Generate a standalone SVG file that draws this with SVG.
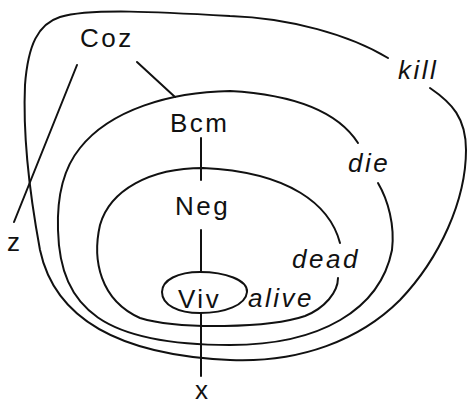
<svg xmlns="http://www.w3.org/2000/svg" width="467" height="405" viewBox="0 0 467 405">
  <style>
    .lbl { font-family: "Liberation Sans", Arial, sans-serif; font-size: 26px; fill: #111; letter-spacing: 2.5px; }
    .it { font-style: italic; }
    .ln { fill: none; stroke: #111; stroke-width: 2; stroke-linecap: round; stroke-linejoin: round; }
  </style>
  <rect width="467" height="405" fill="#fff"/>

  <!-- nested regions and links -->
  <g id="connectors">
    <!-- kill region (outer) -->
    <path class="ln" d="M388,58 C350,35 290,18 230,16 C160,12 90,8 60,17 C38,24 28,45 25,85 C23,130 28,185 40,250 C55,320 120,355 230,360 C300,363 360,340 400,300 C440,258 466,200 466,150 C466,118 452,103 430,88"/>
    <!-- die region -->
    <path class="ln" d="M358,143 C340,115 300,95 230,91 C170,92 110,110 80,148 C62,170 57,200 58,230 C60,310 105,345 230,345 C320,345 380,310 392,250 C395,225 388,200 378,183"/>
    <!-- dead region -->
    <path class="ln" d="M340,243 C330,205 290,172 203,168 C150,168 110,190 100,225 C92,260 100,300 140,318 C180,330 270,328 305,316 C325,308 338,292 338,278"/>
    <!-- alive region -->
    <path class="ln" d="M200,272 C225,272 248,280 247,292 C246,305 225,313 200,313 C178,313 162,305 162,292 C162,280 178,272 200,272 Z"/>
    <!-- Coz links -->
    <line class="ln" x1="77" y1="65" x2="14" y2="222"/>
    <line class="ln" x1="137" y1="62" x2="175" y2="97"/>
    <!-- vertical axis -->
    <line class="ln" x1="201" y1="138" x2="201" y2="180"/>
    <line class="ln" x1="201" y1="230" x2="201" y2="272"/>
    <line class="ln" x1="201" y1="313" x2="201" y2="376"/>
  </g>

  <g id="coz"><text class="lbl" x="80" y="47">Coz</text></g>
  <g id="bcm"><text class="lbl" x="170" y="132">Bcm</text></g>
  <g id="neg"><text class="lbl" x="175" y="215">Neg</text></g>
  <g id="viv"><text class="lbl" x="178" y="308">Viv</text></g>
  <g id="alive"><text class="lbl it" x="248" y="307">alive</text></g>
  <g id="dead"><text class="lbl it" x="292" y="268">dead</text></g>
  <g id="die"><text class="lbl it" x="348" y="172">die</text></g>
  <g id="kill"><text class="lbl it" x="398" y="79">kill</text></g>
  <g id="z"><text class="lbl" x="7" y="251">z</text></g>
  <g id="x"><text class="lbl" x="195" y="399">x</text></g>
</svg>
